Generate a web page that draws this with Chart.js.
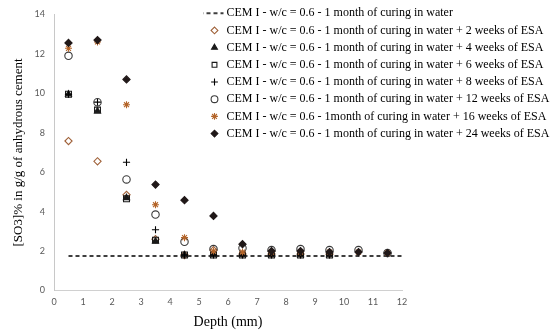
<!DOCTYPE html>
<html><head><meta charset="utf-8">
<script src="https://cdn.jsdelivr.net/npm/chart.js@4/dist/chart.umd.min.js"></script>
<style>html,body{margin:0;padding:0;background:#fff;}#wrap{width:550px;height:336px;}</style>
</head><body><div id="wrap"><canvas id="c" width="550" height="336"></canvas></div>
<script>
// ---- data ----
const depths = [0.5, 1.5, 2.5, 3.5, 4.5, 5.5, 6.5, 7.5, 8.5, 9.5, 10.5, 11.5];
const waterDepths = [0.5, 1.5, 2.5, 3.5, 4.5, 5.5, 6.5, 7.5, 8.5, 9.5, 10.5, 11.5, 12];
const water = [1.75, 1.75, 1.75, 1.75, 1.75, 1.75, 1.75, 1.75, 1.75, 1.75, 1.75, 1.75, 1.75];
const esa2 = [7.58, 6.55, 4.85, 2.6, 1.8, 2.05, 1.85, 1.85, 1.85, 1.85];
const esa4 = [9.95, 9.1, 4.7, 2.5, 1.8, 1.8, 1.8, 1.8, 1.8, 1.8];
const esa6 = [9.95, 9.15, 4.65, 2.55, 1.8, 1.8, 1.8, 1.8, 1.8, 1.8];
const esa8 = [9.95, 9.55, 6.5, 3.08, 1.8, 1.8, 1.8, 1.8, 1.8, 1.8];
const esa12 = [11.9, 9.55, 5.63, 3.85, 2.47, 2.1, 2.15, 2.05, 2.1, 2.05, 2.05, 1.9];
const esa16 = [12.28, 12.6, 9.42, 4.35, 2.68, 2.0, 1.95, 1.95, 1.95, 1.95, 1.95, 1.9];
const esa24 = [12.55, 12.7, 10.7, 5.37, 4.58, 3.78, 2.35, 2.0, 2.0, 1.95, 1.95, 1.9];
const seriesLabels = [
  'CEM I - w/c = 0.6 - 1 month of curing in water',
  'CEM I - w/c = 0.6 - 1 month of curing in water + 2 weeks of ESA',
  'CEM I - w/c = 0.6 - 1 month of curing in water + 4 weeks of ESA',
  'CEM I - w/c = 0.6 - 1 month of curing in water + 6 weeks of ESA',
  'CEM I - w/c = 0.6 - 1 month of curing in water + 8 weeks of ESA',
  'CEM I - w/c = 0.6 - 1 month of curing in water + 12 weeks of ESA',
  'CEM I - w/c = 0.6 - 1month of curing in water + 16 weeks of ESA',
  'CEM I - w/c = 0.6 - 1 month of curing in water + 24 weeks of ESA'
];
const xTitle = 'Depth (mm)';
const yTitle = '[SO3]% in g/g of anhydrous cement';
const xRange = [0, 12];
const yRange = [0, 14];

// ---- build ----
function pts(xs, ys) { return ys.map((v, i) => ({ x: xs[i], y: v })); }
const styles = [
  { pointStyle: 'circle', color: '#000', fill: '#000', r: 0 },
  { pointStyle: 'rectRot', color: '#a0623a', fill: 'rgba(0,0,0,0)', r: 3.6 },
  { pointStyle: 'triangle', color: '#1a1a1a', fill: '#1a1a1a', r: 3.6 },
  { pointStyle: 'rect', color: '#1a1a1a', fill: 'rgba(0,0,0,0)', r: 4.2 },
  { pointStyle: 'cross', color: '#000', fill: 'rgba(0,0,0,0)', r: 3.6 },
  { pointStyle: 'circle', color: '#3a3a3a', fill: 'rgba(0,0,0,0)', r: 3.7 },
  { pointStyle: 'star', color: '#b4652a', fill: 'rgba(0,0,0,0)', r: 3.5 },
  { pointStyle: 'rectRot', color: '#201818', fill: '#201818', r: 3.6 }
];
const allValues = [water, esa2, esa4, esa6, esa8, esa12, esa16, esa24];
const datasets = allValues.map((vals, i) => {
  const s = styles[i];
  return {
    label: seriesLabels[i],
    data: pts(i === 0 ? waterDepths : depths, vals),
    showLine: i === 0,
    borderColor: s.color,
    backgroundColor: s.fill,
    borderWidth: i === 0 ? 1.3 : 1.1,
    borderDash: i === 0 ? [4, 3] : [],
    pointStyle: s.pointStyle,
    pointRadius: s.r,
    pointBorderColor: s.color,
    pointBackgroundColor: s.fill,
    pointBorderWidth: 1.1,
    order: 10 - i
  };
});

// dashed legend icon
const dashIcon = document.createElement('canvas');
dashIcon.width = 30; dashIcon.height = 4;
(function () {
  const g = dashIcon.getContext('2d');
  g.strokeStyle = '#000'; g.lineWidth = 1.3; g.setLineDash([4, 3]);
  g.beginPath(); g.moveTo(0, 2); g.lineTo(24, 2); g.stroke();
})();

const legendShift = {
  id: 'legendShift',
  afterLayout(chart) {
    const l = chart.legend; if (!l) return;
    const pad = l.options.labels.padding;
    l.left = 208.5 - pad; l.top = 2; l.right = 550; l.bottom = 336;
    l.width = l.right - l.left; l.height = l.bottom - l.top;
  }
};

const tickFont = { family: 'Lato', size: 9 };
new Chart(document.getElementById('c'), {
  type: 'scatter',
  data: { datasets },
  options: {
    responsive: false, animation: false, devicePixelRatio: 1,
    layout: { padding: { top: 9.5, right: 148, left: 0, bottom: 0 } },
    scales: {
      x: {
        type: 'linear', min: xRange[0], max: xRange[1],
        grid: { display: false, drawTicks: false },
        border: { display: true, color: '#d0d0d0', width: 1 },
        ticks: { stepSize: 1, autoSkip: false, maxRotation: 0, padding: 6, color: '#595959', font: tickFont },
        title: { display: true, text: xTitle, color: '#000', font: { family: 'Liberation Serif', size: 14 }, padding: { top: 0, bottom: 5.6 } },
        afterFit(s) { s.height = 45.5; }
      },
      y: {
        type: 'linear', min: yRange[0], max: yRange[1],
        grid: { display: false, drawTicks: false },
        border: { display: true, color: '#c8c8c8', width: 1 },
        ticks: { stepSize: 2, padding: 9, color: '#595959', font: tickFont },
        title: { display: true, text: yTitle, color: '#000', font: { family: 'Liberation Serif', size: 13 }, padding: { top: 11, bottom: 0 } },
        afterFit(s) { s.width = 54; }
      }
    },
    plugins: {
      tooltip: { enabled: false },
      legend: {
        position: 'chartArea', align: 'start',
        labels: {
          usePointStyle: true, boxWidth: 12, boxHeight: 4.8, padding: 5.2,
          color: '#000', font: { family: 'Liberation Serif', size: 12 },
          sort: (a, b) => a.datasetIndex - b.datasetIndex,
          generateLabels(chart) {
            const items = Chart.defaults.plugins.legend.labels.generateLabels(chart);
            items.forEach(it => { if (it.datasetIndex === 0) { it.pointStyle = dashIcon; } });
            return items;
          }
        }
      }
    }
  },
  plugins: [legendShift]
});
</script></body></html>
